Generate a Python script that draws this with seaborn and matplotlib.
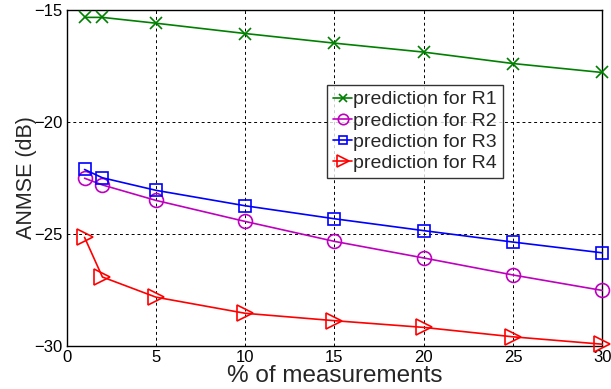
import matplotlib
matplotlib.use("Agg")
import matplotlib.pyplot as plt
import seaborn as sns
import pandas as pd

sns.set_style("white")
plt.rcParams['font.family'] = ['Liberation Sans', 'DejaVu Sans']

x_pct = [1, 2, 5, 10, 15, 20, 25, 30]
r1 = [-15.33, -15.33, -15.59, -16.05, -16.48, -16.88, -17.39, -17.79]
r2 = [-22.51, -22.81, -23.50, -24.44, -25.33, -26.07, -26.83, -27.52]
r3 = [-22.12, -22.49, -23.05, -23.74, -24.32, -24.85, -25.36, -25.84]
r4 = [-25.15, -26.92, -27.82, -28.54, -28.87, -29.17, -29.59, -29.92]
labels = ["prediction for R1", "prediction for R2", "prediction for R3", "prediction for R4"]
x_ticks = [0, 5, 10, 15, 20, 25, 30]
y_ticks = [-30, -25, -20, -15]

colors = ["#008000", "#bf00bf", "#0000ff", "#ff0000"]
markers = ["x", "o", "s", ">"]
msizes = [8, 10, 8.5, 11]

fig = plt.figure(figsize=(6.11, 3.89), dpi=100)
ax = fig.add_axes([66.7 / 611, 1 - 346 / 389, (602.3 - 66.7) / 611, (346 - 10) / 389])

for ys, lab, c, m, ms in zip([r1, r2, r3, r4], labels, colors, markers, msizes):
    df = pd.DataFrame({"x": x_pct, "y": ys})
    sns.lineplot(data=df, x="x", y="y", ax=ax, color=c, marker=m, markersize=ms,
                 markerfacecolor="none", markeredgecolor=c, markeredgewidth=1.2,
                 linewidth=1.2, label=lab, clip_on=False, zorder=3)

ax.set_xlim(0, 30)
ax.set_ylim(-30, -15)
ax.set_xticks(x_ticks)
ax.set_yticks(y_ticks)
ax.set_xticklabels([str(t) for t in x_ticks])
ax.set_yticklabels(["\u2212" + str(abs(t)) for t in y_ticks])
ax.tick_params(axis="both", length=0, labelsize=12, colors="black")
ax.tick_params(axis="y", pad=3)
ax.tick_params(axis="x", pad=3)
ax.grid(True, color="black", linestyle=(0, (3, 3)), linewidth=0.7)
for s in ax.spines.values():
    s.set_visible(True)
    s.set_color("black")
    s.set_linewidth(1.0)

ax.set_xlabel("% of measurements", fontsize=17.5, labelpad=0)
ax.set_ylabel("ANMSE (dB)", fontsize=15.5, labelpad=-2)

leg = ax.legend(loc="upper left", bbox_to_anchor=((327 - 66.7) / 535.6, (346 - 85) / 336),
                borderaxespad=0, fontsize=14, handlelength=1.0, handletextpad=0.05,
                labelspacing=0.18, borderpad=0.3, frameon=True, fancybox=False,
                markerscale=0.75)
leg.get_frame().set_edgecolor("black")
leg.get_frame().set_linewidth(1.0)

fig.savefig("out.png", dpi=100)
